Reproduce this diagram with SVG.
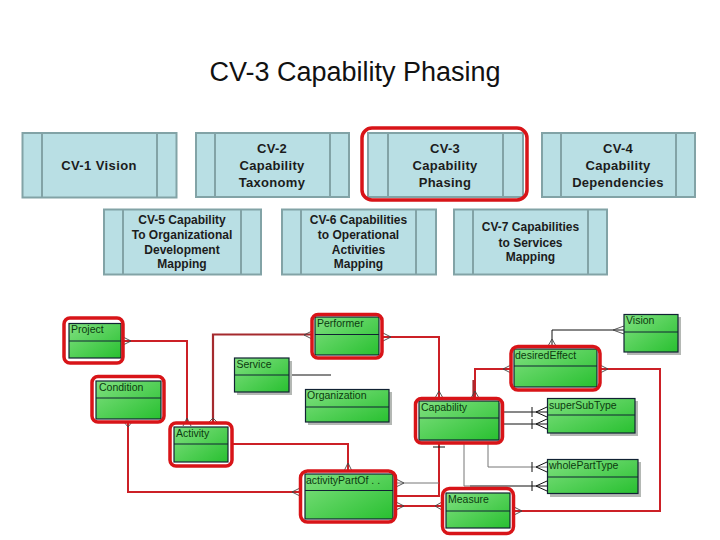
<svg xmlns="http://www.w3.org/2000/svg" width="720" height="540" viewBox="0 0 720 540">
<style>
text{font-family:"Liberation Sans",Arial,sans-serif}
.title{font-size:27px;fill:#111;text-anchor:middle}
.v rect{fill:#b9dfe4;stroke:#82a3a6;stroke-width:2}
.v line{stroke:#82a3a6;stroke-width:2}
.v text{font-size:13px;font-weight:bold;fill:#1c1c1c;text-anchor:middle}
.v.s text{font-size:12px;font-weight:bold}
.e .sh{fill:#b4b8b4;stroke:none}
.e .b{fill:url(#g);stroke:#123;stroke-width:1.2}
.e line{stroke:#123;stroke-width:1}
.e text{font-size:10.5px;fill:#0c3a10}
.hl{fill:none;stroke:#d81418;stroke-width:3.5}
.r,.dr,.k,.y,.c{fill:none}
.r{stroke:#cc2026;stroke-width:2}
.dr{stroke:#a52a2e;stroke-width:2.2}
.k{stroke:#111;stroke-width:1}
.y{stroke:#777;stroke-width:1}
.c{stroke:#444;stroke-width:.9}
</style>
<defs>
<linearGradient id="g" x1="0" y1="0" x2="1" y2="1"><stop offset="0" stop-color="#80e080"/><stop offset="1" stop-color="#28c030"/></linearGradient>
</defs>
<text class="title" x="355" y="81">CV-3 Capability Phasing</text>

<g id="cv1" class="v"><rect x="22.500" y="133" width="154" height="64.500"/><line x1="42" y1="133" x2="42" y2="197"/><line x1="157" y1="133" x2="157" y2="197"/><text x="99" y="170" letter-spacing=".4">CV-1 Vision</text></g>
<g id="cv2" class="v"><rect x="196" y="133" width="153" height="64"/><line x1="215" y1="133" x2="215" y2="197"/><line x1="330" y1="133" x2="330" y2="197"/><text x="272" y="153" letter-spacing=".3">CV-2</text><text x="272" y="170" letter-spacing=".3">Capability</text><text x="272" y="187" letter-spacing=".3">Taxonomy</text></g>
<g id="cv3" class="v"><rect x="368" y="133" width="155" height="64"/><line x1="388" y1="133" x2="388" y2="197"/><line x1="503" y1="133" x2="503" y2="197"/><text x="445" y="153" letter-spacing=".3">CV-3</text><text x="445" y="170" letter-spacing=".3">Capability</text><text x="445" y="187" letter-spacing=".3">Phasing</text><rect x="362" y="128" width="165" height="72" rx="10" style="fill:none;stroke:#d81418;stroke-width:3.500"/></g>
<g id="cv4" class="v"><rect x="542" y="133" width="153" height="64"/><line x1="561" y1="133" x2="561" y2="197"/><line x1="676" y1="133" x2="676" y2="197"/><text x="618" y="153" letter-spacing=".3">CV-4</text><text x="618" y="170" letter-spacing=".3">Capability</text><text x="618" y="187" letter-spacing=".3">Dependencies</text></g>
<g id="cv5" class="v s"><rect x="104" y="209.500" width="157" height="65"/><line x1="123" y1="209" x2="123" y2="275"/><line x1="241" y1="209" x2="241" y2="275"/><text x="182" y="224">CV-5 Capability</text><text x="182" y="239">To Organizational</text><text x="182" y="253.500">Development</text><text x="182" y="268">Mapping</text></g>
<g id="cv6" class="v s"><rect x="282" y="209.500" width="154" height="65"/><line x1="301" y1="209" x2="301" y2="275"/><line x1="416" y1="209" x2="416" y2="275"/><text x="358.500" y="224">CV-6 Capabilities</text><text x="358.500" y="239">to Operational</text><text x="358.500" y="253.500">Activities</text><text x="358.500" y="268">Mapping</text></g>
<g id="cv7" class="v s"><rect x="454" y="209.500" width="153" height="65"/><line x1="473" y1="209" x2="473" y2="275"/><line x1="588" y1="209" x2="588" y2="275"/><text x="530.500" y="231">CV-7 Capabilities</text><text x="530.500" y="246.500">to Services</text><text x="530.500" y="261">Mapping</text></g>

<g id="connectors">
<path class="r" d="M123 341H187V424"/>
<path class="dr" d="M213 422V334.500H312"/>
<path class="r" d="M232 444H348V471"/>
<path class="r" d="M128 422V492H300"/>
<path class="r" d="M383 337H439V398"/>
<path class="r" d="M439 443V496H396"/>
<path class="y" d="M396 483H439"/>
<path class="r" d="M396 506H442"/>
<path class="y" d="M464 443V486H470"/>
<path class="k" d="M470 486H547"/>
<path class="y" d="M488 443V467H547"/>
<path class="r" d="M503 369H511"/>
<path class="r" d="M475 398V369H511"/>
<path class="dr" d="M473.500 398V380"/>
<path class="k" d="M503 412H547M503 424H547"/>
<path class="r" d="M600 369H660V511H514"/>
<path class="k" d="M624 330H552V346"/>
<path class="k" d="M289 375H331"/>
<path class="k" d="M433 447H445"/>
<path class="k" d="M532 407V417M532 419V429M532 462V472M532 481V491"/>
<path class="c" d="M123 337L131 341L123 345M183 426L187 418L191 426M209 422L213 418L217 422M312 331L304 335L312 339M124 422L128 427L132 422M344 471L348 463L352 471M300 488L292 492L300 496M383 333L391 337L383 341M435 398L439 391L443 398M471 398L475 391L479 398M396 479L404 483L396 487M396 502L404 506L396 510M442 502L435 506L442 510M511 365L503 369L511 373M600 365L608 369L600 373M514 507L522 511L514 515M548 346L552 339L556 346M624 326L613 330L624 334"/>
<path class="k" d="M547 407L536 412L547 417M547 419L536 424L547 429M547 462L536 467L547 472M547 481L536 486L547 491"/>
</g>

<g id="project" class="e"><rect class="b" x="69" y="323.500" width="52" height="34.500"/><line x1="69" y1="341" x2="121" y2="341"/><text x="71" y="333">Project</text><rect class="hl" x="64" y="318" width="59" height="45" rx="6"/></g>
<g id="condition" class="e"><rect class="b" x="96" y="381" width="65" height="38"/><line x1="96" y1="398" x2="161" y2="398"/><text x="99" y="391">Condition</text><rect class="hl" x="92" y="376.500" width="72" height="45.500" rx="6"/></g>
<g id="activity" class="e"><rect class="b" x="174" y="427" width="54" height="35"/><line x1="174" y1="444" x2="228" y2="444"/><text x="176" y="437">Activity</text><rect class="hl" x="170" y="423" width="62" height="43" rx="6"/></g>
<g id="service" class="e"><rect class="sh" x="237" y="361" width="55" height="34"/><rect class="b" x="234.500" y="358" width="54.500" height="34"/><line x1="234" y1="375" x2="289" y2="375"/><text x="236.500" y="368">Service</text></g>
<g id="performer" class="e"><rect class="b" x="315" y="317" width="64" height="38"/><line x1="315" y1="334.500" x2="379" y2="334.500"/><text x="317" y="327">Performer</text><rect class="hl" x="312" y="314.500" width="70" height="43.500" rx="6"/></g>
<g id="organization" class="e"><rect class="sh" x="308" y="392" width="84" height="33"/><rect class="b" x="305.500" y="389.500" width="83.500" height="32.500"/><line x1="305" y1="407" x2="389" y2="407"/><text x="307" y="399">Organization</text></g>
<g id="capability" class="e"><rect class="sh" x="419" y="403" width="82" height="39"/><rect class="b" x="419" y="401" width="80" height="39"/><line x1="419" y1="418" x2="499" y2="418"/><text x="421" y="411">Capability</text><rect class="hl" x="415.500" y="398.500" width="87" height="44.500" rx="6"/></g>
<g id="activityPartOf" class="e"><rect class="b" x="305" y="474" width="88" height="45"/><line x1="305" y1="490.500" x2="393" y2="490.500"/><text x="306" y="484">activityPartOf . .</text><rect class="hl" x="300.500" y="471" width="95" height="51" rx="7"/></g>
<g id="measure" class="e"><rect class="b" x="446" y="493" width="64" height="35"/><line x1="446" y1="511" x2="510" y2="511"/><text x="448" y="503">Measure</text><rect class="hl" x="442.500" y="488.500" width="71" height="45" rx="7"/></g>
<g id="vision" class="e"><rect class="sh" x="627" y="317" width="54" height="38"/><rect class="b" x="624" y="314.500" width="54" height="37.500"/><line x1="624" y1="332" x2="678" y2="332"/><text x="626" y="324">Vision</text></g>
<g id="desiredEffect" class="e"><rect class="b" x="514" y="349" width="83" height="38"/><line x1="514" y1="366" x2="597" y2="366"/><text x="515" y="359">desiredEffect</text><rect class="hl" x="511" y="346.500" width="89" height="43.500" rx="7"/></g>
<g id="superSubType" class="e"><rect class="sh" x="550" y="401" width="88" height="35"/><rect class="b" x="547.500" y="398.500" width="87.500" height="34.500"/><line x1="547" y1="415" x2="635" y2="415"/><text x="549" y="409">superSubType</text></g>
<g id="wholePartType" class="e"><rect class="sh" x="550" y="462" width="91" height="35"/><rect class="b" x="547.500" y="459.500" width="90.500" height="34"/><line x1="547" y1="477" x2="638" y2="477"/><text x="549" y="469">wholePartType</text></g>
</svg>
